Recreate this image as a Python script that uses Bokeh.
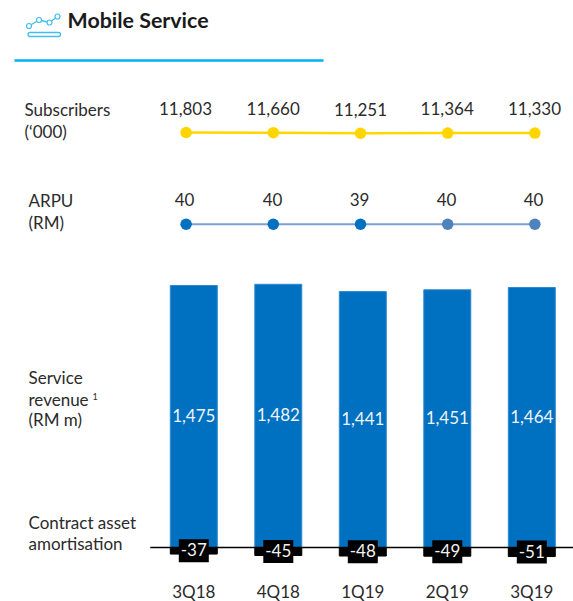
from bokeh.plotting import figure
from bokeh.models import Range1d, FixedTicker
from bokeh.core.properties import value
from bokeh.embed import file_html
from bokeh.resources import INLINE

quarters = ["3Q18", "4Q18", "1Q19", "2Q19", "3Q19"]
subscribers = [11803, 11660, 11251, 11364, 11330]
arpu = [40, 40, 39, 40, 40]
revenue = [1475, 1482, 1441, 1451, 1464]
amortisation = [-37, -45, -48, -49, -51]

FONT = "Lato"
DARK = "#2b2b2b"
W, H, FH = 573, 601, 572
FS = "17px"

idx = list(range(len(quarters)))
def px_x(a, per):   # range that puts index 0 at pixel a, with `per` pixels per step
    return Range1d((0 - a) / per, (W - a) / per)
def px_y(zero, per):  # range that puts value 0 at pixel `zero`
    return Range1d((zero - FH) / per, zero / per)

p = figure(width=W, height=H, frame_width=W, frame_height=FH, output_backend="svg",
           toolbar_location=None, min_border=0, outline_line_color=None,
           x_range=px_x(193.3, 84.5), y_range=px_y(547, 0.1776), x_axis_location="below")
p.grid.visible = False
p.yaxis.visible = False
ax = p.xaxis[0]
ax.ticker = FixedTicker(ticks=idx)
ax.major_label_overrides = {i: q for i, q in zip(idx, quarters)}
ax.axis_line_color = None
ax.major_tick_line_color = None
ax.minor_tick_line_color = None
ax.major_label_text_font = FONT
ax.major_label_text_font_size = FS
ax.major_label_text_color = DARK
ax.major_label_standoff = 2

# extra scales
p.extra_x_ranges = {"line": px_x(185.6, 87.2), "px": Range1d(0, W)}
p.extra_y_ranges = {
    "subs": Range1d(11803 - (FH - 132) / 0.0013, 11803 + 132 / 0.0013),
    "arpu": Range1d(40 - (FH - 223.7) / 0.1, 40 + 223.7 / 0.1),
    "px": Range1d(FH, 0),
}

# bars
p.vbar(x=idx, top=revenue, bottom=0, width=0.556, fill_color="#0070C0",
       line_color="#2E8BD0", line_width=1)
p.vbar(x=idx, top=0, bottom=amortisation, width=0.556, fill_color="black", line_color="black")
p.segment(x0=[-0.515], x1=[4.6], y0=[0], y1=[0], line_color="black", line_width=1.5)
mid_neg = [v / 2 for v in amortisation]
p.rect(x=idx, y=mid_neg, width=30, height=23, width_units="screen", height_units="screen",
       fill_color="black", line_color=None)
p.text(x=idx, y=mid_neg, text=[str(v) for v in amortisation], text_color="#f2f2f2", y_offset=-1,
       text_font=value(FONT), text_font_size=FS, text_align="center", text_baseline="middle")
p.text(x=idx, y=[v / 2 for v in revenue], text=[f"{v:,}" for v in revenue], text_color="#eef4fb", y_offset=-1,
       text_font=value(FONT), text_font_size=FS, text_align="center", text_baseline="middle")

# subscribers line
p.line(x=idx, y=subscribers, x_range_name="line", y_range_name="subs", line_color="#FFD700", line_width=2.5)
p.scatter(x=idx, y=subscribers, x_range_name="line", y_range_name="subs", size=11.5,
          fill_color="#FFD500", line_color=None)
# ARPU line
arpu_colors = ["#0070C0", "#0070C0", "#0070C0", "#4F81BD", "#4F81BD"]
p.line(x=idx, y=arpu, x_range_name="line", y_range_name="arpu", line_color="#7BA0CF", line_width=2)
p.scatter(x=idx, y=arpu, x_range_name="line", y_range_name="arpu", size=11.5,
          fill_color=arpu_colors, line_color=None)

def ptext(x, y, t, size=FS, color=DARK, align="left", style="normal", dy=-1.5):
    p.text(x=x, y=y, text=t, x_range_name="px", y_range_name="px", text_color=color,
           text_font=value(FONT), text_font_size=size, text_align=align, y_offset=dy,
           text_baseline="middle", text_font_style=style)

# value labels above the lines
ptext([185, 272.7, 360, 446.7, 534], [109.5, 109.5, 110.7, 109.5, 109.5],
      [f"{v:,}" for v in subscribers], align="center")
ptext([184, 272, 359, 446, 533], [200.7] * 5, [str(v) for v in arpu], align="center")

# row captions
ptext([24, 24], [110.5, 132], ["Subscribers", "(\u2018000)"])
ptext([28, 28], [201.5, 223.5], ["ARPU", "(RM)"])
ptext([28, 28, 28], [378, 400, 420], ["Service", "revenue", "(RM m)"])
ptext([92], [397], ["1"], size="9px")
ptext([28, 28], [523, 544], ["Contract asset", "amortisation"])

# header
ptext([67], [22], ["Mobile Service"], size="21.4px", color="#1a1a1a", style="bold", dy=-2.5)
p.segment(x0=[14], x1=[323], y0=[60], y1=[60], x_range_name="px", y_range_name="px",
          line_color="#00B0F0", line_width=2.5)
icon_x = [28.5, 38.5, 49, 57]
icon_y = [25.5, 19.5, 22, 16]
p.line(x=icon_x, y=icon_y, x_range_name="px", y_range_name="px", line_color="#45BDF2", line_width=1.3)
p.scatter(x=icon_x, y=icon_y, x_range_name="px", y_range_name="px", size=5,
          fill_color="white", line_color="#45BDF2", line_width=1.2)
p.quad(left=[27.5], right=[60], top=[32], bottom=[36], x_range_name="px", y_range_name="px",
       fill_color="white", line_color="#45BDF2", line_width=1.3, border_radius=2)

open("out.html", "w").write(file_html(p, INLINE))
